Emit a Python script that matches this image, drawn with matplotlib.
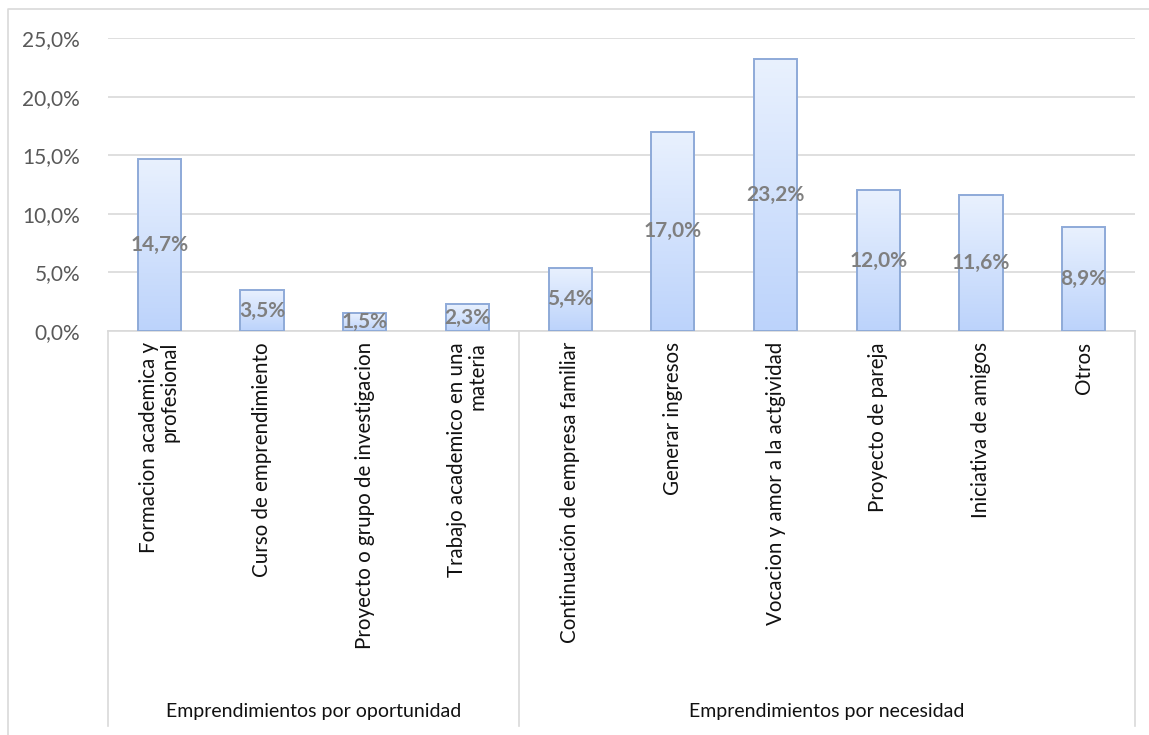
import numpy as np
import matplotlib
matplotlib.use("Agg")
import matplotlib.pyplot as plt
from matplotlib.colors import LinearSegmentedColormap
from matplotlib.patches import Rectangle
from matplotlib.lines import Line2D
import matplotlib.transforms as mtransforms

plt.rcParams['font.family'] = ['Lato', 'DejaVu Sans']

# data
categories = [
    "Formacion academica y\nprofesional",
    "Curso de emprendimiento",
    "Proyecto o grupo de investigacion",
    "Trabajo academico en una\nmateria",
    "Continuación de empresa familiar",
    "Generar ingresos",
    "Vocacion y amor a la actgividad",
    "Proyecto de pareja",
    "Iniciativa de amigos",
    "Otros",
]
values = [14.7, 3.5, 1.5, 2.3, 5.4, 17.0, 23.2, 12.0, 11.6, 8.9]
groups = ["Emprendimientos por oportunidad", "Emprendimientos por necesidad"]
group_sizes = [4, 6]
yticks = [0, 5, 10, 15, 20, 25]

fig = plt.figure(figsize=(11.49, 7.35), dpi=100)
ax = fig.add_axes([108 / 1149, 1 - 331 / 735, (1135 - 108) / 1149, (331 - 38) / 735])

x = np.arange(len(values))
bw = 0.42
bars = ax.bar(x, values, width=bw, color='none', edgecolor='#8eaad8', linewidth=1.4, zorder=3)

# gradient fill for each bar
cmap = LinearSegmentedColormap.from_list('grad', ['#bcd3fb', '#e9f1fe'])
grad = np.linspace(0, 1, 256).reshape(-1, 1)
for b in bars:
    x0, y0 = b.get_x(), b.get_y()
    w, h = b.get_width(), b.get_height()
    im = ax.imshow(grad, cmap=cmap, origin='lower', aspect='auto',
                   extent=[x0, x0 + w, y0, y0 + h], zorder=2)
    clip = Rectangle((x0, y0), w, h, transform=ax.transData)
    im.set_clip_path(clip)

# value labels in the middle of each bar
for xi, v in zip(x, values):
    ax.text(xi, v / 2, f"{v:.1f}%".replace('.', ','), ha='center', va='center',
            fontsize=15, fontweight='bold', color='#7f7f7f', zorder=4)

ax.set_xlim(-0.5, len(values) - 0.5)
ax.set_ylim(0, 25)
ax.set_yticks(yticks)
ax.set_yticklabels([f"{t:.1f}%".replace('.', ',') for t in yticks], fontsize=15, color='#595959')
ax.yaxis.grid(True, color='#d9d9d9', linewidth=1.2, zorder=0)
ax.set_axisbelow(True)
for s in ['top', 'right', 'left']:
    ax.spines[s].set_visible(False)
ax.spines['bottom'].set_color('#d9d9d9')
ax.spines['bottom'].set_linewidth(1.2)
ax.tick_params(axis='y', length=0, pad=20)
ax.tick_params(axis='x', length=0, pad=8)
ax.set_xticks(x)
ax.set_xticklabels(categories, rotation=90, ha='center', va='top',
                   multialignment='right', fontsize=14.8, color='#111111',
                   linespacing=1.05)

# group separators and labels
trans = mtransforms.blended_transform_factory(ax.transData, fig.transFigure)
bottom_y = 1 - 726 / 735
top_y = 1 - 331 / 735
edges = np.concatenate([[0], np.cumsum(group_sizes)]) - 0.5
for e in edges:
    fig.add_artist(Line2D([e, e], [bottom_y, top_y], transform=trans,
                          color='#d9d9d9', linewidth=1.2))
for g, a, b in zip(groups, edges[:-1], edges[1:]):
    fig.text((a + b) / 2, 1 - 712 / 735, g, transform=trans, ha='center', va='center',
             fontsize=14, color='#111111')

# outer chart border
fig.add_artist(Line2D([8 / 1149, 8 / 1149, 1.0], [0, 1 - 9 / 735, 1 - 9 / 735],
                      transform=fig.transFigure, color='#d9d9d9', linewidth=1.2))

fig.savefig('out.png', dpi=100)
